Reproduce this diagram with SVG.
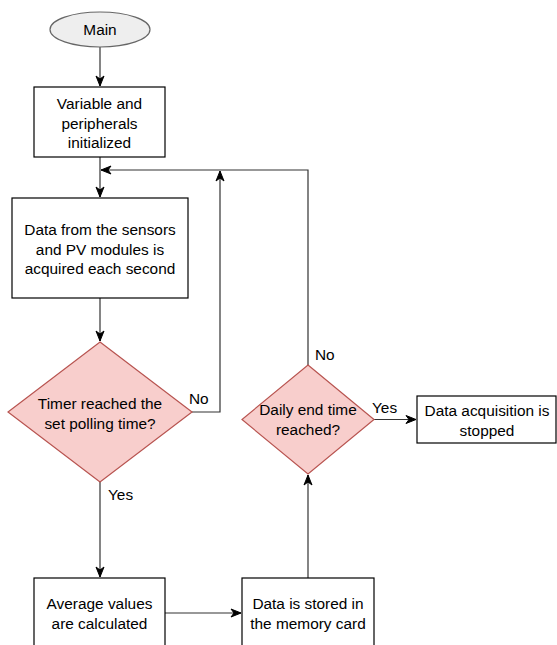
<svg xmlns="http://www.w3.org/2000/svg" width="557" height="645" viewBox="0 0 557 645">
<style>
text{font-family:"Liberation Sans",Arial,sans-serif;font-size:15.4px;fill:#000;text-anchor:middle}
.box{fill:#fff;stroke:#000;stroke-width:1.2}
.dec{fill:#f8cecc;stroke:#b85450;stroke-width:1.2}
.term{fill:#eeeeee;stroke:#666;stroke-width:1.2}
.edge{fill:none;stroke:#333;stroke-width:1.2}
.lbl{text-anchor:start}
</style>
<defs>
<marker id="arr" markerUnits="userSpaceOnUse" markerWidth="12" markerHeight="12" viewBox="0 0 12 12" refX="11" refY="6" orient="auto">
<path d="M1,2 L11,6 L1,10 L4,6 Z" fill="#000" stroke="#000" stroke-width="1"/>
</marker>
</defs>
<g id="connectors">
<path class="edge" d="M100,47 V86" marker-end="url(#arr)"/>
<path class="edge" d="M100,157 V197" marker-end="url(#arr)"/>
<path class="edge" d="M100,298 V341" marker-end="url(#arr)"/>
<path class="edge" d="M192,412 H220 V171" marker-end="url(#arr)"/>
<path class="edge" d="M308,365 V170 H101" marker-end="url(#arr)"/>
<path class="edge" d="M100,482 V577" marker-end="url(#arr)"/>
<path class="edge" d="M165,613 H241" marker-end="url(#arr)"/>
<path class="edge" d="M308,578 V475" marker-end="url(#arr)"/>
<path class="edge" d="M374,419.5 H416" marker-end="url(#arr)"/>
<text class="lbl" x="189" y="404">No</text>
<text class="lbl" x="108" y="500">Yes</text>
<text class="lbl" x="315" y="360">No</text>
<text class="lbl" x="372" y="413">Yes</text>
</g>
<g id="main">
<ellipse class="term" cx="100" cy="29.5" rx="50" ry="17.5"/>
<text x="100" y="35">Main</text>
</g>
<g id="init">
<rect class="box" x="34" y="87" width="131" height="70"/>
<text x="99.5" y="109">Variable and</text>
<text x="99.5" y="128.5">peripherals</text>
<text x="99.5" y="148">initialized</text>
</g>
<g id="acquire">
<rect class="box" x="12" y="198" width="176" height="100"/>
<text x="100" y="235">Data from the sensors</text>
<text x="100" y="254.5">and PV modules is</text>
<text x="100" y="274">acquired each second</text>
</g>
<g id="timer">
<polygon class="dec" points="100,342 192,412 100,482 8,412"/>
<text x="100" y="409">Timer reached the</text>
<text x="100" y="428.5">set polling time?</text>
</g>
<g id="average">
<rect class="box" x="34" y="578" width="131" height="72"/>
<text x="99.5" y="609">Average values</text>
<text x="99.5" y="628.5">are calculated</text>
</g>
<g id="store">
<rect class="box" x="242" y="578" width="132" height="72"/>
<text x="308" y="609">Data is stored in</text>
<text x="308" y="628.5">the memory card</text>
</g>
<g id="daily">
<polygon class="dec" points="308,365 374,419.5 308,474 242,419.5"/>
<text x="308" y="415">Daily end time</text>
<text x="308" y="434.5">reached?</text>
</g>
<g id="stopped">
<rect class="box" x="417" y="396" width="139" height="47"/>
<text x="487" y="416">Data acquisition is</text>
<text x="487" y="435.5">stopped</text>
</g>
</svg>
